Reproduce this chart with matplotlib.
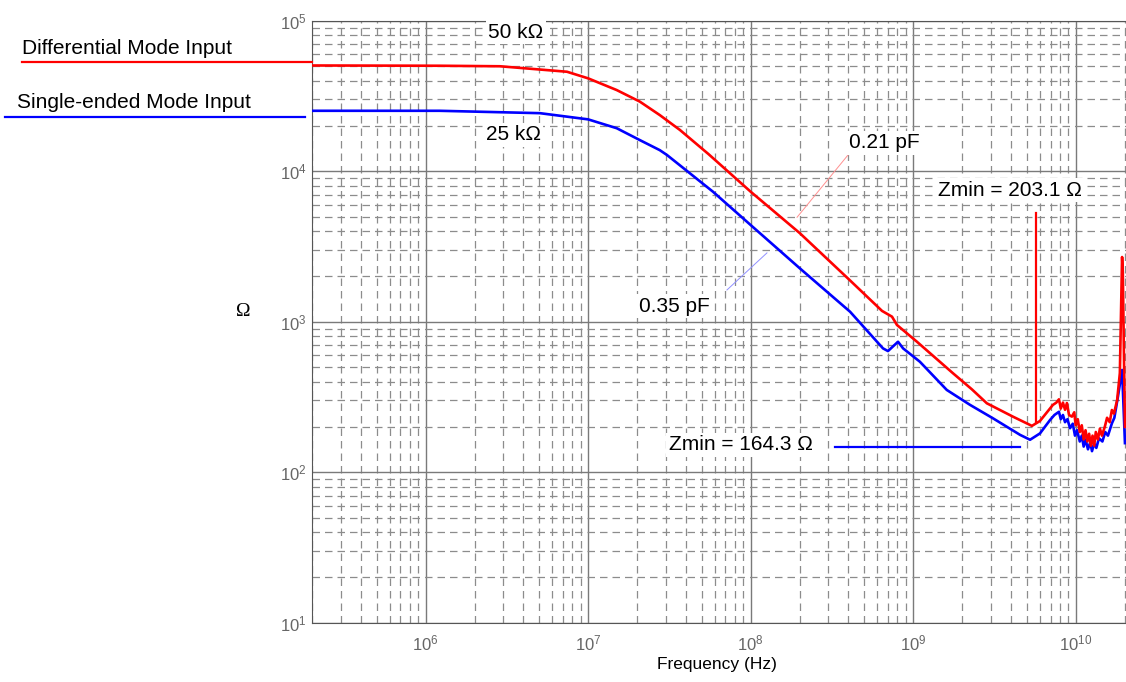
import matplotlib
matplotlib.use('Agg')
import matplotlib.pyplot as plt
from matplotlib import font_manager
from matplotlib.lines import Line2D
from matplotlib.ticker import LogLocator, LogFormatterSciNotation, NullFormatter

# impedance (Hz, ohm)
diff_freq = [2.0e5, 1.22e6, 2.87e6, 7.41e6, 1.0e7, 1.5e7, 2.08e7, 2.76e7, 3.67e7,
             5.5e7, 1.0e8, 2.01e8, 4.09e8, 6.43e8, 7.41e8, 7.95e8, 1.055e9, 1.76e9,
             2.3e9, 2.84e9, 4.11e9, 5.38e9, 6.03e9, 7.24e9, 7.6e9, 7.89e9, 8.1e9,
             8.35e9, 8.6e9, 8.83e9, 9.1e9, 9.48e9, 9.8e9, 1.0e10, 1.03e10, 1.06e10,
             1.09e10, 1.12e10, 1.15e10, 1.18e10, 1.21e10, 1.24e10, 1.27e10, 1.30e10,
             1.33e10, 1.37e10, 1.41e10, 1.45e10, 1.51e10, 1.56e10, 1.62e10, 1.67e10,
             1.72e10, 1.80e10, 1.87e10, 1.93e10, 1.95e10, 2.01e10]
diff_z = [5.04e4, 5.02e4, 4.98e4, 4.58e4, 4.14e4, 3.46e4, 2.90e4, 2.36e4, 1.88e4,
          1.30e4, 7310, 3870, 1880, 1180, 1080, 951, 736, 454,
          355, 287, 234, 203.1, 219, 280, 290, 305, 265,
          290, 260, 288, 240, 234, 250, 205, 225, 185,
          205, 165, 190, 160, 180, 150, 175, 150,
          185, 165, 195, 175, 200, 230, 215, 259,
          245, 302, 456, 2690, 2110, 200]

se_freq = [2.0e5, 1.22e6, 5.05e6, 1.0e7, 1.5e7, 2.08e7, 2.76e7, 3.06e7, 5.86e7,
           1.0e8, 2.01e8, 4.09e8, 6.52e8, 7.0e8, 8.07e8, 8.67e8, 1.10e9, 1.61e9,
           2.24e9, 3.10e9, 4.55e9, 5.24e9, 6.03e9, 6.95e9, 7.4e9, 7.89e9, 8.1e9,
           8.35e9, 8.6e9, 8.9e9, 9.23e9, 9.6e9, 9.9e9, 1.02e10, 1.06e10, 1.09e10,
           1.12e10, 1.15e10, 1.19e10, 1.23e10, 1.26e10, 1.30e10, 1.34e10, 1.39e10,
           1.46e10, 1.52e10, 1.58e10, 1.67e10, 1.73e10, 1.82e10, 1.93e10, 2.01e10]
se_z = [2.52e4, 2.52e4, 2.43e4, 2.21e4, 1.93e4, 1.61e4, 1.38e4, 1.28e4, 7310,
        4390, 2260, 1165, 665, 638, 736, 665, 542, 352,
        280, 228, 177, 164.3, 181, 222, 240, 252, 225,
        240, 215, 225, 196, 210, 175, 190, 160, 175,
        148, 165, 142, 158, 138, 155, 145, 168,
        160, 185, 175, 211, 230, 318, 478, 156]

names = {f.name for f in font_manager.fontManager.ttflist}
narrow = 'Liberation Sans Narrow' if 'Liberation Sans Narrow' in names else 'Liberation Sans'
plt.rcParams['font.family'] = ['Liberation Sans', 'DejaVu Sans']
plt.rcParams['mathtext.fontset'] = 'custom'
plt.rcParams['mathtext.rm'] = 'Liberation Sans'

W, H = 1126, 682
fig = plt.figure(figsize=(W / 100, H / 100), dpi=100)
ax = fig.add_axes([312 / W, 1 - 622.7 / H, (W - 312) / W, (622.7 - 20.7) / H])

ax.set_xscale('log')
ax.set_yscale('log')
ax.set_xlim(2.0e5, 2.04e10)
ax.set_ylim(10, 1e5)

ax.xaxis.set_major_locator(LogLocator(base=10, numticks=20))
ax.yaxis.set_major_locator(LogLocator(base=10, numticks=20))
ax.xaxis.set_minor_locator(LogLocator(base=10, subs=range(2, 10), numticks=20))
ax.yaxis.set_minor_locator(LogLocator(base=10, subs=range(2, 10), numticks=20))
ax.xaxis.set_major_formatter(LogFormatterSciNotation())
ax.yaxis.set_major_formatter(LogFormatterSciNotation())
ax.xaxis.set_minor_formatter(NullFormatter())
ax.yaxis.set_minor_formatter(NullFormatter())

ax.grid(True, which='major', color='#7a7a7a', lw=1.0, ls='-')
ax.grid(True, which='minor', color='#8c8c8c', lw=0.9, ls=(0, (6, 4)))
ax.tick_params(which='both', length=0)
ax.tick_params(axis='x', pad=8, labelsize=12, labelcolor='#666666')
ax.tick_params(axis='y', pad=4, labelsize=12, labelcolor='#666666')
for s in ['left', 'bottom', 'top']:
    ax.spines[s].set_color('#555555')
ax.spines['right'].set_visible(False)

ax.plot(se_freq, se_z, color='#0000ff', lw=1.9, zorder=3)
ax.plot(diff_freq, diff_z, color='#ff0000', lw=1.9, zorder=4)

# annotations (positions in axes fraction, from pixel positions)
def axpos(px, py):
    return (px - 312) / (W - 312), 1 - (py - 20.7) / 602

box = dict(facecolor='white', edgecolor='none', pad=2)
txt = dict(fontsize=15, ha='center', va='center', color='black', zorder=6,
           transform=ax.transAxes, bbox=box)
ax.text(*axpos(516, 32), '50 kΩ', **txt)
ax.text(*axpos(513, 135), '25 kΩ', **txt)
ax.text(*axpos(884, 143), '0.21 pF', **txt)
ax.text(*axpos(674, 306), '0.35 pF', **txt)
ax.text(*axpos(1010, 190), 'Zmin = 203.1 Ω', **txt)
ax.text(*axpos(741, 445), 'Zmin = 164.3 Ω', **txt)

# marker lines for the minima and capacitance slopes
ax.plot([5.7e9, 5.7e9], [5270, 215], color='#ff0000', lw=1.6, zorder=5)
ax.plot([3.30e8, 4.54e9], [146, 146], color='#0000ff', lw=1.6, zorder=5)
ax.plot([3.97e8, 1.93e8], [1.28e4, 4940], color='#ff9090', lw=0.7, zorder=5)
ax.plot([1.26e8, 7.15e7], [2865, 1625], color='#9090ff', lw=0.7, zorder=5)

# axis labels
fig.text(243 / W, 1 - 312 / H, 'Ω', family='Liberation Serif', fontsize=14,
         ha='center', va='center')
fig.text(717 / W, 1 - 665 / H, 'Frequency (Hz)', family=narrow,
         fontsize=14.5 if narrow != 'Liberation Sans' else 12.5,
         ha='center', va='center')

# legend drawn outside the axes
fig.add_artist(Line2D([22 / W, 312 / W], [1 - 62.3 / H] * 2, color='#ff0000', lw=1.6))
fig.add_artist(Line2D([5 / W, 305 / W], [1 - 117 / H] * 2, color='#0000ff', lw=1.6))
fig.text(22 / W, 1 - 48 / H, 'Differential Mode Input', fontsize=15, ha='left', va='center')
fig.text(17 / W, 1 - 103 / H, 'Single-ended Mode Input', fontsize=15, ha='left', va='center')

fig.savefig('out.png', dpi=100)
